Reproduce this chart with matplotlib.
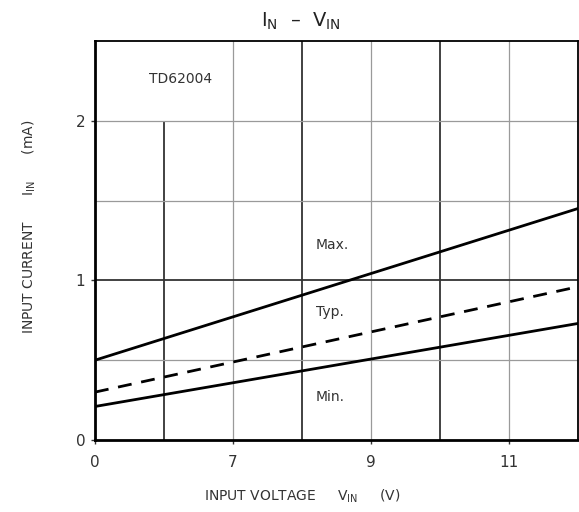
import matplotlib

matplotlib.use("Agg")
import matplotlib.pyplot as plt

# data (V_IN in V, I_IN in mA)
v_in = [5, 12]
i_max = [0.50, 1.45]
i_typ = [0.30, 0.96]
i_min = [0.21, 0.73]

x_ticks = [5, 7, 9, 11]
x_tick_labels = ["0", "7", "9", "11"]
y_ticks = [0, 1, 2]
y_tick_labels = ["0", "1", "2"]

thick_v = [8, 10]
thin_v = [7, 9, 11]
short_v = 6  # this one only runs up to 2 mA
thick_h = [1]
thin_h = [0.5, 1.5, 2]

fig = plt.figure(figsize=(5.79, 5.12), dpi=100)
ax = fig.add_axes([0.164, 0.1406, 0.834, 0.7794])
ax.set_xlim(5, 12)
ax.set_ylim(0, 2.5)

for x in thin_v:
    ax.axvline(x, color="#9a9a9a", lw=0.9, zorder=1)
for x in thick_v:
    ax.axvline(x, color="#333333", lw=1.3, zorder=1)
ax.vlines(short_v, 0, 2, color="#333333", lw=1.3, zorder=1)
for y in thin_h:
    ax.axhline(y, color="#9a9a9a", lw=0.9, zorder=1)
for y in thick_h:
    ax.axhline(y, color="#333333", lw=1.3, zorder=1)

ax.plot(v_in, i_max, color="black", lw=2.0, zorder=3)
ax.plot(v_in, i_typ, color="black", lw=2.0, ls=(0, (5, 3.5)), zorder=3)
ax.plot(v_in, i_min, color="black", lw=2.0, zorder=3)

ax.text(8.2, 1.22, "Max.", fontsize=10, color="#333333", va="center")
ax.text(8.2, 0.80, "Typ.", fontsize=10, color="#333333", va="center")
ax.text(8.2, 0.27, "Min.", fontsize=10, color="#333333", va="center")
ax.text(5.78, 2.26, "TD62004", fontsize=10, color="#333333", va="center")

for side in ["top", "right"]:
    ax.spines[side].set_linewidth(1.3)
for side in ["left", "bottom"]:
    ax.spines[side].set_linewidth(2.0)

ax.set_xticks(x_ticks)
ax.set_xticklabels(x_tick_labels)
ax.set_yticks(y_ticks)
ax.set_yticklabels(y_tick_labels)
ax.tick_params(axis="both", length=3, width=1, labelsize=11, colors="#333333", pad=4)
ax.tick_params(axis="x", pad=8)

ax.set_xlabel(r"INPUT VOLTAGE     V$_{\mathregular{IN}}$     (V)", fontsize=10,
              color="#333333")
ax.xaxis.set_label_coords(0.43, -0.118)
ax.set_ylabel(r"INPUT CURRENT      I$_{\mathregular{IN}}$      (mA)", fontsize=10,
              color="#333333")
ax.yaxis.set_label_coords(-0.118, 0.535)
fig.text(0.52, 0.958, r"I$_{\mathregular{N}}$  –  V$_{\mathregular{IN}}$", fontsize=14,
         ha="center", va="center", color="#222222")

fig.savefig("out.png", dpi=100)
